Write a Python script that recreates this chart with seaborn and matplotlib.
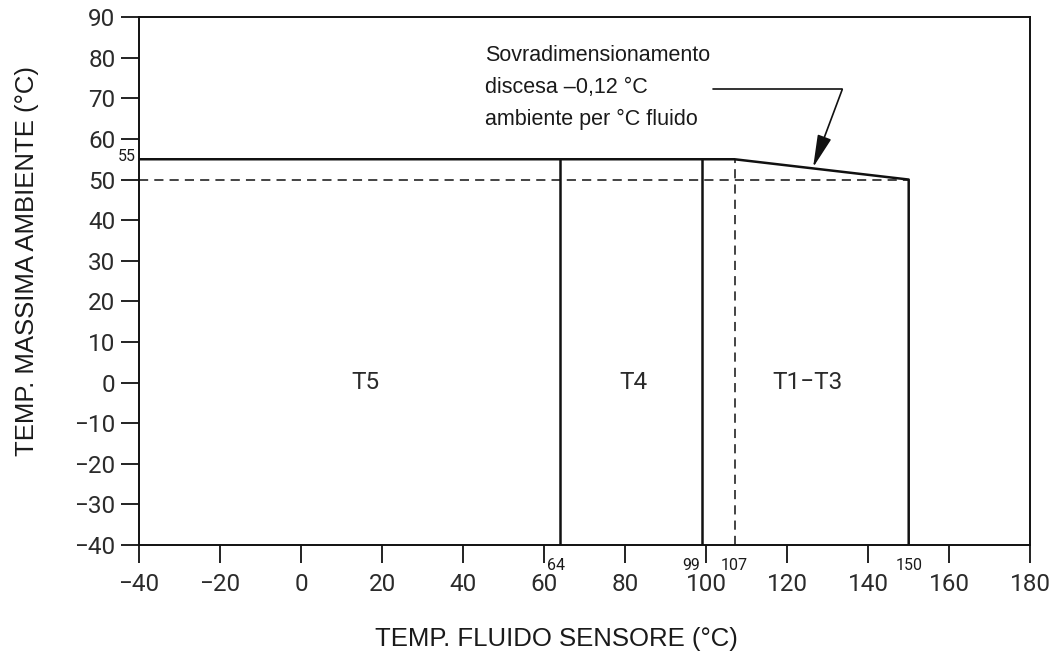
import pandas as pd
import matplotlib
matplotlib.use("Agg")
import matplotlib.pyplot as plt
import seaborn as sns

# limite di temperatura ambiente (linea continua)
limite_x = [-40, 107, 150, 150]
limite_y = [55, 55, 50, -40]

# confini tra le classi di temperatura
confini_classi = [64, 99]
quota_confini = [-40, 55]

# linee tratteggiate di riferimento
rif_orizz_x = [-40, 150]
rif_orizz_y = [50, 50]
rif_vert_x = [107, 107]
rif_vert_y = [-40, 55]

# etichette delle classi
classi = ["T5", "T4", "T1\u2212T3"]
classi_x = [16, 82, 125]
classi_y = [0, 0, 0]

# valori notevoli sull'asse x
valori_x = [64, 99, 107, 150]
valori_x_lbl = ["64", "99", "107", "150"]

sns.set_style("ticks")
plt.rcParams["font.family"] = ["Liberation Sans", "DejaVu Sans"]
plt.rcParams["axes.unicode_minus"] = True

fig = plt.figure(figsize=(10.61, 6.59), dpi=100)
ax = fig.add_axes([0.131, 0.173, 0.84, 0.801])

nero = "#111111"
grigio = "#2b2b2b"
num_font = ["Roboto", "DejaVu Sans"]

lim = pd.DataFrame({"x": limite_x, "y": limite_y})
sns.lineplot(data=lim, x="x", y="y", sort=False, estimator=None,
             color=nero, lw=1.8, ax=ax)
for c in confini_classi:
    sns.lineplot(x=[c, c], y=quota_confini, estimator=None, sort=False,
                 color=nero, lw=1.8, ax=ax)
sns.lineplot(x=rif_orizz_x, y=rif_orizz_y, estimator=None, sort=False,
             color=nero, lw=1.1, ax=ax, linestyle=(0, (6, 4)))
sns.lineplot(x=rif_vert_x, y=rif_vert_y, estimator=None, sort=False,
             color=nero, lw=1.1, ax=ax, linestyle=(0, (6, 4)))

ax.set_xlim(-40, 180)
ax.set_ylim(-40, 90)
ax.set_xticks(range(-40, 181, 20))
ax.set_yticks(range(-40, 91, 10))
ax.tick_params(axis="both", direction="out", length=13, width=1.3,
               color=nero, labelsize=17.5, labelcolor=grigio)
ax.tick_params(axis="x", pad=7)
ax.tick_params(axis="y", pad=4)
for lbl in ax.get_xticklabels() + ax.get_yticklabels():
    lbl.set_family(num_font)
for sp in ax.spines.values():
    sp.set_color(nero)
    sp.set_linewidth(1.4)

ax.set_xlabel("TEMP. FLUIDO SENSORE (\u00b0C)", fontsize=18.5, color="#1a1a1a")
ax.set_ylabel("TEMP. MASSIMA AMBIENTE (\u00b0C)", fontsize=18.5, color="#1a1a1a")
ax.xaxis.set_label_coords(0.468, -0.155)
ax.yaxis.set_label_coords(-0.112, 0.538)

for nome, cx, cy in zip(classi, classi_x, classi_y):
    ax.text(cx, cy, nome, fontsize=17.5, ha="center", va="center",
            family=num_font, color=grigio)

for v, t in zip(valori_x, valori_x_lbl):
    ha = "right" if v == 99 else "center"
    xo = -0.6 if v == 99 else (0 if v != 64 else -1.0)
    ax.text(v + xo, -43.2, t, fontsize=11.5, ha=ha, va="top",
            family=num_font, color="#1a1a1a", clip_on=False)
ax.text(-40.8, 55.8, "55", fontsize=11.5, ha="right", va="center",
        family=num_font, color="#1a1a1a", clip_on=False)

ax.text(45.5, 72.6, "Sovradimensionamento\ndiscesa \u20130,12 \u00b0C\nambiente per \u00b0C fluido",
        fontsize=15.5, ha="left", va="center", linespacing=1.68, color="#1a1a1a")
ax.plot([101.7, 133.6], [72.2, 72.2], color=nero, lw=1.2)
ax.annotate("", xy=(126.4, 53.0), xytext=(133.6, 72.2),
            arrowprops=dict(arrowstyle="-|>,head_length=1.0,head_width=0.22",
                            color=nero, lw=1.2, mutation_scale=20,
                            shrinkA=0, shrinkB=0))

fig.savefig("out.png", dpi=100)
